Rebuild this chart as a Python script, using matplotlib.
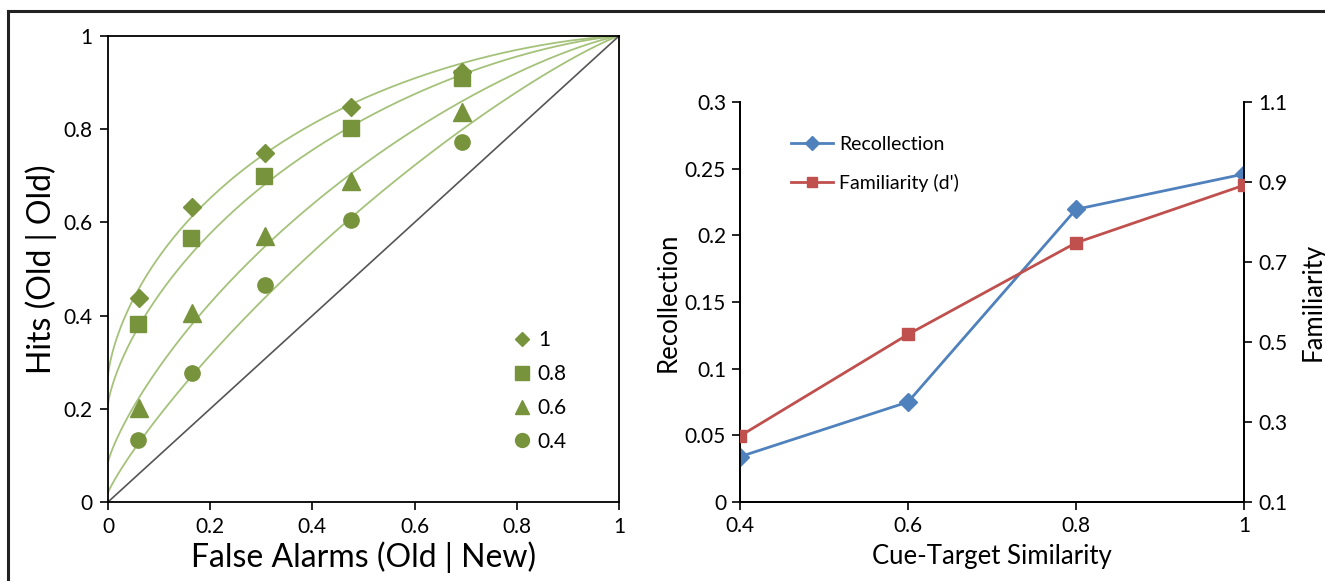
import numpy as np
import matplotlib
matplotlib.use("Agg")
import matplotlib.pyplot as plt
from matplotlib.lines import Line2D
from math import erf, sqrt

plt.rcParams['font.family'] = ['Lato', 'DejaVu Sans']

# ---- Left panel data (ROC) ----
roc_labels = ['1', '0.8', '0.6', '0.4']
roc_markers = ['D', 's', '^', 'o']
fa_1 = [0.061, 0.164, 0.307, 0.476, 0.693]
hit_1 = [0.438, 0.633, 0.749, 0.848, 0.923]
fa_08 = [0.059, 0.162, 0.305, 0.476, 0.693]
hit_08 = [0.382, 0.567, 0.700, 0.803, 0.910]
fa_06 = [0.061, 0.164, 0.307, 0.476, 0.693]
hit_06 = [0.202, 0.406, 0.571, 0.689, 0.837]
fa_04 = [0.059, 0.164, 0.307, 0.476, 0.693]
hit_04 = [0.133, 0.277, 0.466, 0.605, 0.773]
# fitted dual-process curve parameters (intercept R, d')
curve_R = [0.27, 0.21, 0.085, 0.02]
curve_d = [0.90, 0.75, 0.52, 0.32]

# ---- Right panel data ----
similarity = [0.4, 0.6, 0.8, 1.0]
recollection = [0.034, 0.075, 0.2195, 0.246]
familiarity = [0.265, 0.519, 0.748, 0.892]

green_mk = '#77933C'
green_ln = '#A5C27A'
blue = '#4F81BD'
red = '#C0504D'

fig = plt.figure(figsize=(13.25, 5.81), dpi=100)

# frame lines (top and left)
fig.add_artist(Line2D([8/1325, 8/1325], [0, 1-11/581], color='#222222', lw=2.2, transform=fig.transFigure))
fig.add_artist(Line2D([8/1325, 1], [1-11/581, 1-11/581], color='#222222', lw=2.2, transform=fig.transFigure))

ax1 = fig.add_axes([108/1325, 1-502/581, (619-108)/1325, (502-36)/581])
Phi = np.vectorize(lambda v: 0.5*(1+erf(v/sqrt(2))))
c = np.linspace(-6, 6, 600)
for R, d in zip(curve_R, curve_d):
    F = Phi(-c)
    H = R + (1-R)*Phi(d - c)
    F = np.concatenate([[0], F])
    H = np.concatenate([[R], H])
    order = np.argsort(F)
    ax1.plot(F[order], H[order], color=green_ln, lw=1.3, zorder=2)
ax1.plot([0, 1], [0, 1], color='#555555', lw=1.2, zorder=2)

series = [(fa_1, hit_1), (fa_08, hit_08), (fa_06, hit_06), (fa_04, hit_04)]
sizes = [9.5, 11, 13, 11]
for (fx, hy), mk, lab, ms in zip(series, roc_markers, roc_labels, sizes):
    ax1.plot(fx, hy, linestyle='none', marker=mk, color=green_mk, ms=ms,
             label=lab, zorder=3)

ax1.set_xlim(0, 1)
ax1.set_ylim(0, 1)
ticks = [0, 0.2, 0.4, 0.6, 0.8, 1]
ticklabels = ['0', '0.2', '0.4', '0.6', '0.8', '1']
ax1.set_xticks(ticks, ticklabels)
ax1.set_yticks(ticks, ticklabels)
ax1.tick_params(direction='out', length=6, width=1.2, labelsize=15, pad=5)
for s in ax1.spines.values():
    s.set_linewidth(1.3)
ax1.set_xlabel('False Alarms (Old | New)', fontsize=23, labelpad=3)
ax1.set_ylabel('Hits (Old | Old)', fontsize=23, labelpad=5)
leg1 = ax1.legend(handles=[Line2D([], [], linestyle='none', marker=m, color=green_mk,
                                  ms=(7.5 if m == 'D' else 10)) for m in roc_markers],
                  labels=roc_labels, loc='upper left', bbox_to_anchor=(0.778, 0.386),
                  frameon=False, fontsize=15, handlelength=0.8, handletextpad=0.35,
                  labelspacing=0.66, borderaxespad=0)

# ---- Right panel ----
ax2 = fig.add_axes([740/1325, 1-502/581, (1244-740)/1325, (502-102)/581])
ax3 = ax2.twinx()
l1, = ax2.plot(similarity, recollection, color=blue, lw=2, marker='D', ms=9, label='Recollection', zorder=3)
l2, = ax3.plot(similarity, familiarity, color=red, lw=2, marker='s', ms=9, label="Familiarity (d')", zorder=3)
ax2.set_xlim(0.4, 1.0)
ax2.set_ylim(0, 0.3)
ax3.set_ylim(0.1, 1.1)
ax2.set_xticks([0.4, 0.6, 0.8, 1.0], ['0.4', '0.6', '0.8', '1'])
ax2.set_yticks([0, 0.05, 0.1, 0.15, 0.2, 0.25, 0.3], ['0', '0.05', '0.1', '0.15', '0.2', '0.25', '0.3'])
ax3.set_yticks([0.1, 0.3, 0.5, 0.7, 0.9, 1.1], ['0.1', '0.3', '0.5', '0.7', '0.9', '1.1'])
for a in (ax2, ax3):
    a.spines['top'].set_visible(False)
    a.tick_params(direction='out', length=6, width=1.2, labelsize=15, pad=4)
    for s in a.spines.values():
        s.set_linewidth(1.3)
ax2.set_xlabel('Cue-Target Similarity', fontsize=18.5, labelpad=6)
ax2.set_ylabel('Recollection', fontsize=18.5, labelpad=3)
ax3.set_ylabel('Familiarity', fontsize=18.5, labelpad=10)
ax2.legend(handles=[Line2D([], [], color=blue, lw=2, marker='D', ms=7),
                    Line2D([], [], color=red, lw=2, marker='s', ms=7)],
           labels=['Recollection', "Familiarity (d')"], loc='upper left',
           bbox_to_anchor=(0.085, 0.935), frameon=False, fontsize=14,
           handlelength=2.2, handletextpad=0.3, labelspacing=1.1, borderaxespad=0)

fig.savefig('out.png', dpi=100)
